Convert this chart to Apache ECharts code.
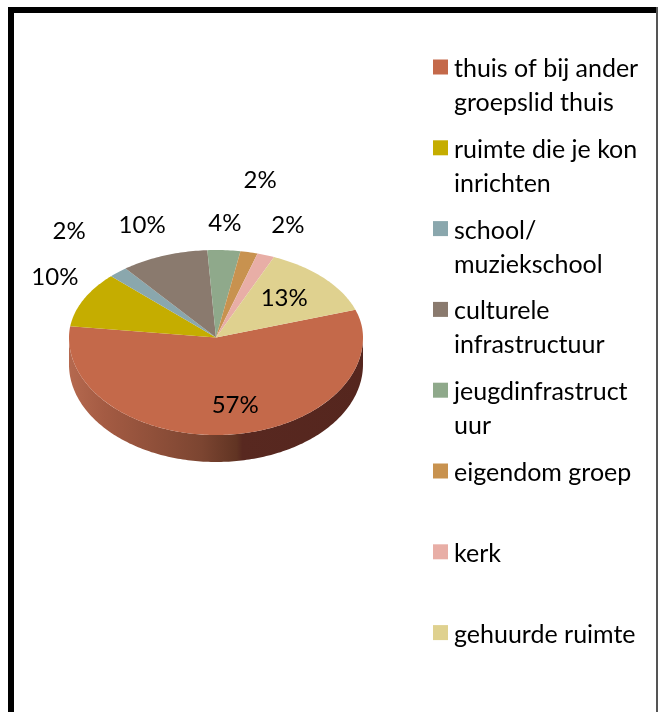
<!DOCTYPE html>
<html>
<head>
<meta charset="utf-8">
<style>
  html, body { margin: 0; padding: 0; background: #fff; }
  #chart { width: 658px; height: 712px; }
</style>
<script src="https://cdn.jsdelivr.net/npm/echarts@6/dist/echarts.min.js"></script>
</head>
<body>
<div id="chart"></div>
<script>
const categories = [
  'thuis of bij ander\ngroepslid thuis',
  'ruimte die je kon\ninrichten',
  'school/\nmuziekschool',
  'culturele\ninfrastructuur',
  'jeugdinfrastruct\nuur',
  'eigendom groep',
  'kerk',
  'gehuurde ruimte',
]
// the printed labels are these rounded
const values = [57.2, 10.3, 2.1, 9.6, 3.6, 1.9, 1.9, 13.4]
const colors = ['#c4694a', '#c5ad00', '#8aa7ad', '#8a7a6e', '#8fa98b', '#c8924f', '#e8aea6', '#dfd18f']
// label shift in px from the middle of each slice's rim
const labelNudge = [[5, -29], [-29, -22], [-49, -41], [-22, -30], [1, -27], [11, -72], [22, -30], [-40, 20]]

const FONT = 'Lato, sans-serif'
const START_ANGLE = -18.5
const CX = 216
const CY = 337.5
const RX = 147
const RY_BACK = 87.5 // back half looks flatter, as in a perspective 3D pie
const RY_FRONT = 97.5
const DEPTH = 27

const total = values.reduce((a, b) => a + b, 0)

function rimPoint(deg, drop) {
  const a = (deg * Math.PI) / 180
  const s = Math.sin(a)
  return [CX + RX * Math.cos(a), CY + (s < 0 ? RY_BACK : RY_FRONT) * s + (drop || 0)]
}

function arcPoints(from, to, drop) {
  const pts = []
  for (let d = from; d < to; d += 1) pts.push(rimPoint(d, drop))
  pts.push(rimPoint(to, drop))
  return pts
}

const wallFill = {
  type: 'linear', global: true, x: CX - RX, y: 0, x2: CX + RX, y2: 0,
  colorStops: [
    { offset: 0, color: '#b5694f' },
    { offset: 0.12, color: '#a45b43' },
    { offset: 0.45, color: '#7c4531' },
    { offset: 0.57, color: '#613423' },
    { offset: 0.59, color: '#582820' },
    { offset: 1, color: '#55261e' },
  ],
}

function sliceRenderer(index, startPct) {
  return (params, api) => {
    const from = START_ANGLE + (startPct / total) * 360
    const to = from + (api.value(0) / total) * 360
    const mid = (from + to) / 2
    const children = []

    // wall: only the part of the rim that faces the viewer
    const wallFrom = Math.max(from, 0)
    const wallTo = Math.min(to, 180)
    if (wallTo > wallFrom) {
      const upper = arcPoints(wallFrom, wallTo, 0)
      const lower = arcPoints(wallFrom, wallTo, DEPTH).reverse()
      children.push({
        type: 'polygon', z2: 1, silent: true,
        shape: { points: upper.concat(lower) },
        style: { fill: wallFill },
      })
    }

    children.push({
      type: 'polygon', z2: 2, silent: true,
      shape: { points: [[CX, CY]].concat(arcPoints(from, to, 0)) },
      style: { fill: colors[index] },
    })

    const anchor = rimPoint(mid, 0)
    children.push({
      type: 'text', z2: 3, silent: true,
      style: {
        text: Math.round(api.value(0)) + '%',
        x: anchor[0] + labelNudge[index][0],
        y: anchor[1] + labelNudge[index][1],
        align: 'center',
        verticalAlign: 'middle',
        fill: '#000',
        fontFamily: FONT,
        fontSize: 24,
      },
    })
    return { type: 'group', children }
  }
}

let running = 0
const series = categories.map((name, i) => {
  const item = {
    type: 'custom',
    name,
    coordinateSystem: 'none',
    itemStyle: { color: colors[i] },
    renderItem: sliceRenderer(i, running),
    data: [[values[i]]],
    animation: false,
  }
  running += values[i]
  return item
})

const legendLine = { fontFamily: FONT, fontSize: 25, lineHeight: 34, color: '#000' }

// taller blank first line keeps the marker level with the first text line
function legendText(name) {
  const lines = name.split('\n')
  return '{gap| }\n{t|' + lines[0] + '}\n{t|' + (lines[1] || ' ') + '}'
}

const chart = echarts.init(document.getElementById('chart'))
chart.setOption({
  backgroundColor: '#fff',
  animation: false,
  legend: {
    left: 433,
    top: 28,
    orient: 'vertical',
    icon: 'rect',
    itemWidth: 15,
    itemHeight: 15,
    itemGap: -6.7,
    padding: 0,
    selectedMode: false,
    formatter: legendText,
    textStyle: {
      padding: [0, 0, 0, 1],
      rich: { gap: { fontSize: 10, lineHeight: 38 }, t: legendLine },
    },
    data: categories,
  },
  graphic: [
    { type: 'rect', shape: { x: 8, y: 7, width: 6, height: 705 }, style: { fill: '#000' } },
    { type: 'rect', shape: { x: 8, y: 7, width: 650, height: 6 }, style: { fill: '#000' } },
    { type: 'rect', shape: { x: 656, y: 7, width: 2, height: 705 }, style: { fill: '#555' } },
  ],
  series,
})
</script>
</body>
</html>
